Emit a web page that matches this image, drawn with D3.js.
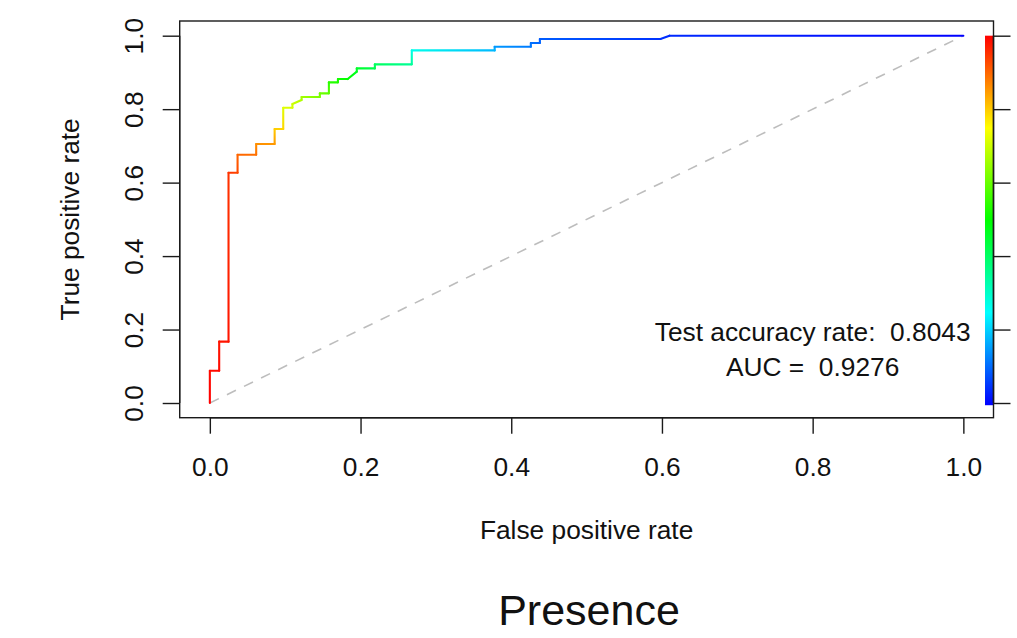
<!DOCTYPE html>
<html>
<head>
<meta charset="utf-8">
<script src="https://cdn.jsdelivr.net/npm/d3@7"></script>
<style>
  html, body { margin: 0; padding: 0; background: #ffffff; }
  svg { display: block; }
  text { font-family: "Liberation Sans", Arial, Helvetica, sans-serif; fill: #111; white-space: pre; }
</style>
</head>
<body>
<svg id="chart" width="1017" height="638"></svg>
<script>
// ROC curve vertices (false positive rate, true positive rate) and the
// classifier cutoff reached at each vertex (used for the colour scale).
const fprValues = [0, 0, 0.0124, 0.0124, 0.0248, 0.0248, 0.0368, 0.0368, 0.0615, 0.0615,
  0.086, 0.086, 0.0974, 0.0974, 0.1096, 0.1096, 0.1218, 0.1218, 0.146, 0.146,
  0.158, 0.158, 0.170, 0.170, 0.183, 0.195, 0.195, 0.219, 0.219, 0.268,
  0.268, 0.378, 0.378, 0.426, 0.426, 0.438, 0.438, 0.598, 0.610, 1.0];
const tprValues = [0, 0.088, 0.088, 0.167, 0.167, 0.627, 0.627, 0.676, 0.676, 0.705,
  0.705, 0.746, 0.746, 0.804, 0.804, 0.814, 0.825, 0.833, 0.833, 0.843,
  0.843, 0.873, 0.873, 0.882, 0.882, 0.902, 0.911, 0.911, 0.922, 0.922,
  0.960, 0.960, 0.970, 0.970, 0.980, 0.980, 0.991, 0.991, 1.0, 1.0];
const cutoffValues = [1.0, 0.99, 0.99, 0.98, 0.98, 0.95, 0.93, 0.90, 0.89, 0.86,
  0.85, 0.80, 0.79, 0.72, 0.71, 0.70, 0.67, 0.66, 0.62, 0.61,
  0.59, 0.54, 0.53, 0.52, 0.50, 0.47, 0.46, 0.42, 0.41, 0.35,
  0.27, 0.18, 0.15, 0.12, 0.11, 0.10, 0.09, 0.05, 0.04, 0.0];

const xTicks = [0, 0.2, 0.4, 0.6, 0.8, 1.0];
const yTicks = [0, 0.2, 0.4, 0.6, 0.8, 1.0];
const cutoffTicks = [0, 0.2, 0.4, 0.6, 0.8, 1.0];

const accuracyText = "Test accuracy rate:  0.8043";
const aucText = "AUC =  0.9276";
const xTitle = "False positive rate";
const yTitle = "True positive rate";
const mainTitle = "Presence";

// Plot region (R-style: axis range padded 4% on each side)
const box = { left: 179.7, right: 993.5, top: 21, bottom: 417.7 };
const x = d3.scaleLinear().domain([-0.04, 1.04]).range([box.left, box.right]);
const y = d3.scaleLinear().domain([-0.04, 1.04]).range([box.bottom, box.top]);

// Rainbow palette: cutoff 1 -> red, cutoff 0 -> blue
const cutColor = c => d3.hsl((1 - Math.max(0, Math.min(1, c))) * 240, 1, 0.5).formatHex();

const svg = d3.select("#chart");
const defs = svg.append("defs");
const axisColor = "#1a1a1a";
const fontSize = 26.3;

// Diagonal reference line
svg.append("line")
  .attr("x1", x(0)).attr("y1", y(0))
  .attr("x2", x(1)).attr("y2", y(1))
  .attr("stroke", "#bdbdbd")
  .attr("stroke-width", 1.6)
  .attr("stroke-dasharray", "10,9");

// ROC curve, each segment shaded from the cutoff colour at its start to its end
const pts = fprValues.map((f, i) => ({ fpr: f, tpr: tprValues[i], cut: cutoffValues[i] }));
const segs = d3.pairs(pts);
segs.forEach(([a, b], i) => {
  const g = defs.append("linearGradient")
    .attr("id", "seg" + i)
    .attr("gradientUnits", "userSpaceOnUse")
    .attr("x1", x(a.fpr)).attr("y1", y(a.tpr))
    .attr("x2", x(b.fpr)).attr("y2", y(b.tpr));
  g.append("stop").attr("offset", 0).attr("stop-color", cutColor(a.cut));
  g.append("stop").attr("offset", 1).attr("stop-color", cutColor(b.cut));
});
svg.append("g")
  .attr("class", "roc")
  .selectAll("line")
  .data(segs)
  .join("line")
  .attr("x1", d => x(d[0].fpr)).attr("y1", d => y(d[0].tpr))
  .attr("x2", d => x(d[1].fpr)).attr("y2", d => y(d[1].tpr))
  .attr("stroke", (d, i) => `url(#seg${i})`)
  .attr("stroke-width", 2.1)
  .attr("stroke-linecap", "round");

// Colour key for the cutoff values
const cg = defs.append("linearGradient")
  .attr("id", "cutoffKey")
  .attr("x1", 0).attr("y1", 1).attr("x2", 0).attr("y2", 0);
d3.range(0, 1.0001, 0.05).forEach(t => {
  cg.append("stop").attr("offset", t).attr("stop-color", cutColor(t));
});
svg.append("rect")
  .attr("x", 985)
  .attr("y", y(1))
  .attr("width", box.right - 985)
  .attr("height", y(-0.006) - y(1))
  .attr("fill", "url(#cutoffKey)");

// Plot frame
svg.append("rect")
  .attr("x", box.left).attr("y", box.top)
  .attr("width", box.right - box.left).attr("height", box.bottom - box.top)
  .attr("fill", "none").attr("stroke", axisColor).attr("stroke-width", 1.4);

// Bottom axis
const xAxis = d3.axisBottom(x).tickValues(xTicks).tickSize(16).tickPadding(24)
  .tickFormat(d3.format(".1f"));
const gx = svg.append("g").attr("transform", `translate(0,${box.bottom})`).call(xAxis);
gx.select(".domain").attr("d", `M${x(0)},0H${x(1)}`).attr("stroke", axisColor).attr("stroke-width", 1.4);
gx.selectAll(".tick line").attr("stroke", axisColor).attr("stroke-width", 1.4);
gx.selectAll(".tick text")
  .attr("font-size", fontSize).attr("font-family", null).attr("fill", "#111")
  .attr("dy", null).attr("y", 58);

// Left axis, labels rotated parallel to the axis
const yAxis = d3.axisLeft(y).tickValues(yTicks).tickSize(17).tickFormat(d3.format(".1f"));
const gy = svg.append("g").attr("transform", `translate(${box.left},0)`).call(yAxis);
gy.select(".domain").attr("d", `M0,${y(0)}V${y(1)}`).attr("stroke", axisColor).attr("stroke-width", 1.4);
gy.selectAll(".tick line").attr("stroke", axisColor).attr("stroke-width", 1.4);
gy.selectAll(".tick text")
  .attr("font-size", fontSize).attr("font-family", null).attr("fill", "#111")
  .attr("x", null).attr("dy", null)
  .attr("text-anchor", "middle")
  .attr("transform", "translate(-37,0) rotate(-90)");

// Right axis for the colour key (ticks only)
const rAxis = d3.axisRight(y).tickValues(cutoffTicks).tickSize(17).tickFormat("");
const gr = svg.append("g").attr("transform", `translate(${box.right},0)`).call(rAxis);
gr.select(".domain").attr("d", `M0,${y(0)}V${y(1)}`).attr("stroke", axisColor).attr("stroke-width", 1.4);
gr.selectAll(".tick line").attr("stroke", axisColor).attr("stroke-width", 1.4);

// Annotations
svg.append("text")
  .attr("x", x(0.8)).attr("y", 341)
  .attr("text-anchor", "middle").attr("font-size", fontSize)
  .attr("xml:space", "preserve")
  .text(accuracyText);
svg.append("text")
  .attr("x", x(0.8)).attr("y", 376)
  .attr("text-anchor", "middle").attr("font-size", fontSize)
  .attr("xml:space", "preserve")
  .text(aucText);

// Axis titles
svg.append("text")
  .attr("x", (box.left + box.right) / 2).attr("y", 539)
  .attr("text-anchor", "middle").attr("font-size", fontSize)
  .text(xTitle);
svg.append("text")
  .attr("transform", `translate(79,${(box.top + box.bottom) / 2}) rotate(-90)`)
  .attr("text-anchor", "middle").attr("font-size", fontSize)
  .text(yTitle);

// Title below the plot
svg.append("text")
  .attr("x", 589).attr("y", 625)
  .attr("text-anchor", "middle").attr("font-size", 43)
  .text(mainTitle);
</script>
</body>
</html>
